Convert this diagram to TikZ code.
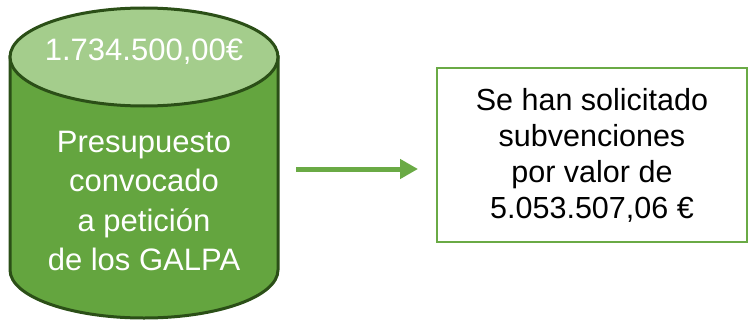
\documentclass[tikz,border=0pt]{standalone}
\usepackage{fontspec}
\setmainfont{Liberation Sans}
\usetikzlibrary{arrows.meta}
\definecolor{cylbody}{HTML}{64A53F}
\definecolor{cyltop}{HTML}{A4CD8C}
\definecolor{cylline}{HTML}{2B4F17}
\definecolor{arrgreen}{HTML}{6AAA45}
\tikzset{
  cyltext/.style={text=white, align=center, font=\fontsize{31}{39.5}\selectfont},
  boxtext/.style={draw=arrgreen, line width=2.5pt, fill=white, align=center,
    minimum width=310pt, minimum height=174pt, inner sep=0pt,
    font=\fontsize{30.5}{36}\selectfont},
  flow/.style={draw=arrgreen, line width=5pt, -{Triangle[length=18pt,width=19pt]}}
}
\begin{document}
\begin{tikzpicture}[x=1pt,y=-1pt]
\useasboundingbox (0,0) rectangle (749,321);
% cylinder body
\filldraw[fill=cylbody, draw=cylline, line width=3pt]
  (10,57) -- (10,270) arc[start angle=180, end angle=360, x radius=134, y radius=-48] -- (278,57) -- cycle;
\filldraw[fill=cyltop, draw=cylline, line width=3pt]
  (144,57) ellipse[x radius=134, y radius=49];
\node[cyltext] (amount) at (144,52) {1.734.500,00€};
\node[cyltext] (budget) at (144,201) {Presupuesto\\convocado\\a petición\\de los GALPA};
% box
\node[boxtext] (box) at (592,155) {Se han solicitado\\subvenciones\\por valor de\\5.053.507,06 €};
\coordinate (start) at (296,169);
\coordinate (stop) at (418,169);
\draw[flow] (start) -- (stop);
\end{tikzpicture}
\end{document}
